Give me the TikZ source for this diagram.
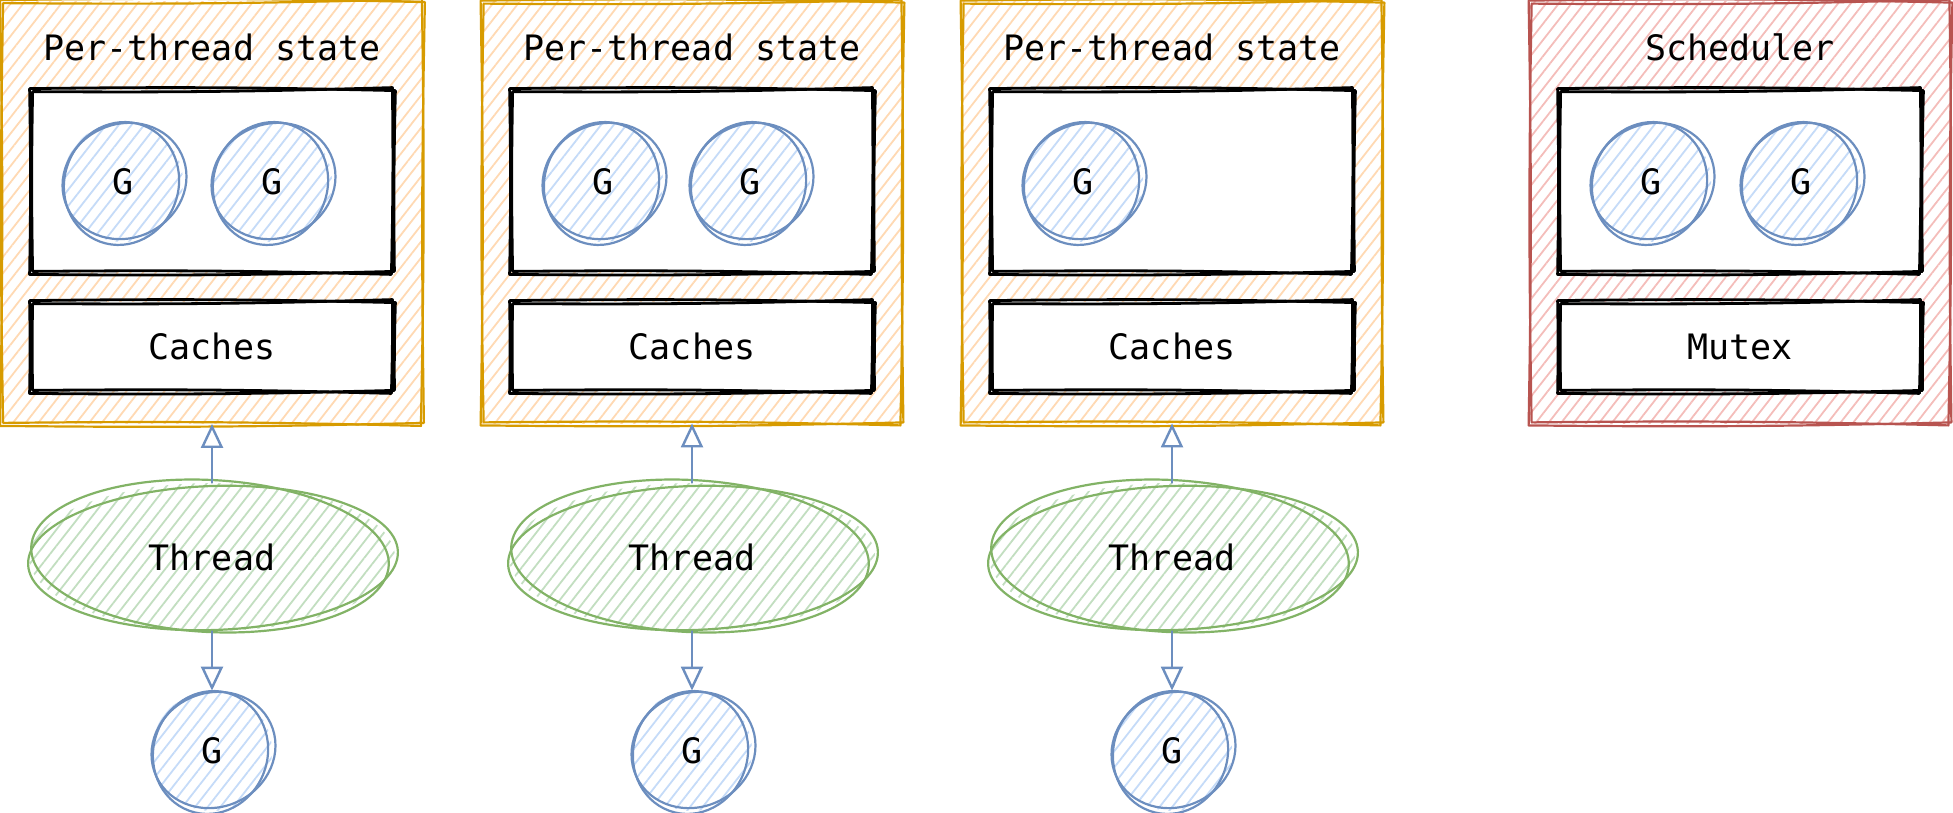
\documentclass[tikz,border=0pt]{standalone}
\usepackage{fontspec}
\newfontfamily\skfont{DejaVu Sans Mono}
\usetikzlibrary{patterns.meta,arrows.meta,shapes.geometric,calc}
\definecolor{ostroke}{HTML}{D79B00}
\definecolor{ofill}{HTML}{FFD9B3}
\definecolor{rstroke}{HTML}{B85450}
\definecolor{rfill}{HTML}{F4BDBA}
\definecolor{gstroke}{HTML}{82B366}
\definecolor{gfill}{HTML}{C2DEC0}
\definecolor{bstroke}{HTML}{6C8EBF}
\definecolor{bfill}{HTML}{C5DBF8}
\newcommand\lbl{\skfont\fontsize{17.5pt}{21pt}\selectfont}
\tikzset{
  hatch/.style={pattern={Lines[angle=52,distance=5pt,line width=0.9pt]},pattern color=#1},
  outerbox/.style={rectangle,minimum width=210pt,minimum height=210.5pt,inner sep=0pt,hatch=#1},
  innerbox/.style={rectangle,fill=white,minimum width=181pt,minimum height=91pt,inner sep=0pt},
  cachebox/.style={rectangle,fill=white,minimum width=181pt,minimum height=44.5pt,inner sep=0pt,font=\lbl},
  gnode/.style={circle,minimum size=60pt,inner sep=0pt,hatch=bfill,font=\lbl},
  threadnode/.style={ellipse,minimum width=183pt,minimum height=74pt,inner sep=0pt,hatch=gfill,font=\lbl},
  titlenode/.style={font=\lbl,inner sep=0pt},
  skline/.style={line width=1.1pt,line join=round,line cap=round},
  blackline/.style={line width=1.4pt},
  arr/.style={draw=bstroke,line width=1.2pt,line cap=round,-{Triangle[open,length=12pt,width=11pt,line width=1.2pt]}},
}
\newcommand\skrect[2]{%
  \draw[skline,#2] ([shift={(-1,-1)}]#1.north west) to[bend left=1] ([shift={(2,1)}]#1.north east)
     to[bend right=1] ([shift={(1,-1)}]#1.south east) to[bend left=1] ([shift={(-1,2)}]#1.south west)
     to[bend right=1] ([shift={(-1,-1)}]#1.north west);
  \draw[skline,#2] ([shift={(2,2)}]#1.north west) to[bend right=1] ([shift={(-1,-2)}]#1.north east)
     to[bend left=1] ([shift={(-2,2)}]#1.south east) to[bend right=1] ([shift={(2,-1)}]#1.south west)
     to[bend left=1] ([shift={(2,2)}]#1.north west);
}
\newcommand\skcirc[3]{%
  \draw[skline,#2] ([shift={(1.5,-1)}]#1.center) circle [x radius=#3+3, y radius=#3-3, rotate=25];
  \draw[skline,#2] ([shift={(-1.5,1.5)}]#1.center) circle [x radius=#3-3, y radius=#3+2, rotate=-20];
}
\newcommand\skell[2]{%
  \draw[skline,gstroke] ([shift={(1,1)}]#1.center) circle [x radius=#2+2, y radius=72, rotate=2];
  \draw[skline,gstroke] ([shift={(-2,-1)}]#1.center) circle [x radius=#2-4, y radius=76, rotate=-3];
}
\begin{document}
\begin{tikzpicture}[x=0.5pt,y=-0.5pt]
\useasboundingbox (0,0) rectangle (1953,813);
% outer boxes
\node[outerbox=ofill] (box1) at (212,212.5) {};
\node[outerbox=ofill] (box2) at (692,212.5) {};
\node[outerbox=ofill] (box3) at (1172,212.5) {};
\node[outerbox=rfill] (box4) at (1740,212.5) {};
% titles
\node[titlenode] (h1) at (212,47) {Per-thread state};
\node[titlenode] (h2) at (692,47) {Per-thread state};
\node[titlenode] (h3) at (1172,47) {Per-thread state};
\node[titlenode] (h4) at (1740,47) {Scheduler};
% inner queue boxes
\node[innerbox] (q1) at (212,181) {};
\node[innerbox] (q2) at (692,181) {};
\node[innerbox] (q3) at (1172,181) {};
\node[innerbox] (q4) at (1740,181) {};
% caches / mutex
\node[cachebox] (c1) at (212,346.5) {Caches};
\node[cachebox] (c2) at (692,346.5) {Caches};
\node[cachebox] (c3) at (1172,346.5) {Caches};
\node[cachebox] (c4) at (1740,346.5) {Mutex};
% goroutines in queues
\node[gnode] (g11) at (123,182) {G};
\node[gnode] (g12) at (272,182) {G};
\node[gnode] (g21) at (603,182) {G};
\node[gnode] (g22) at (750,182) {G};
\node[gnode] (g31) at (1083,182) {G};
\node[gnode] (g41) at (1651,182) {G};
\node[gnode] (g42) at (1801,182) {G};
% threads
\node[threadnode] (t1) at (212,557) {Thread};
\node[threadnode] (t2) at (692,557) {Thread};
\node[threadnode] (t3) at (1172,557) {Thread};
% running goroutines
\node[gnode] (gb1) at (212,751) {G};
\node[gnode] (gb2) at (692,751) {G};
\node[gnode] (gb3) at (1172,751) {G};
% sketch outlines
\skrect{box1}{ostroke}
\skrect{box2}{ostroke}
\skrect{box3}{ostroke}
\skrect{box4}{rstroke}
\foreach \n in {q1,q2,q3,q4,c1,c2,c3,c4} {\skrect{\n}{black,blackline}}
\foreach \n in {g11,g12,g21,g22,g31,g41,g42,gb1,gb2,gb3} {\skcirc{\n}{bstroke}{60}}
\foreach \n in {t1,t2,t3} {\skell{\n}{183}}
% connectors
\foreach \i in {1,2,3} {
  \draw[arr] (t\i) -- (box\i);
  \draw[arr] (t\i) -- (gb\i);
}
\end{tikzpicture}
\end{document}
